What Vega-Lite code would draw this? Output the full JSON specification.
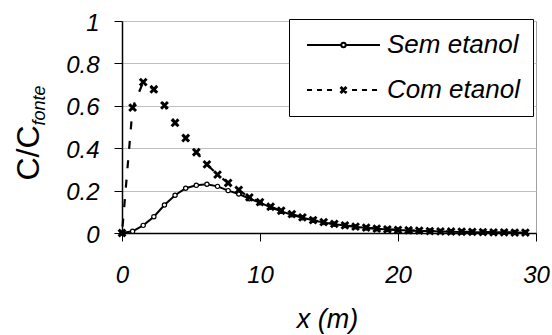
{
  "$schema": "https://vega.github.io/schema/vega-lite/v6.json",
  "width": 414,
  "height": 212,
  "autosize": {"type": "none"},
  "padding": {"left": 122, "top": 21, "right": 16, "bottom": 102},
  "background": "white",
  "config": {
    "font": "Liberation Sans",
    "view": {"stroke": "#a0a0a0", "strokeWidth": 1},
    "axis": {"labelFont": "Liberation Sans", "titleFont": "Liberation Sans", "labelColor": "black", "titleColor": "black", "tickColor": "black", "domainColor": "black"}
  },
  "data": {"values": [
    {"x": 0, "c": 0, "serie": "Sem etanol"},
    {"x": 0.769, "c": 0.008, "serie": "Sem etanol"},
    {"x": 1.538, "c": 0.036, "serie": "Sem etanol"},
    {"x": 2.308, "c": 0.077, "serie": "Sem etanol"},
    {"x": 3.077, "c": 0.132, "serie": "Sem etanol"},
    {"x": 3.846, "c": 0.178, "serie": "Sem etanol"},
    {"x": 4.615, "c": 0.211, "serie": "Sem etanol"},
    {"x": 5.385, "c": 0.225, "serie": "Sem etanol"},
    {"x": 6.154, "c": 0.23, "serie": "Sem etanol"},
    {"x": 6.923, "c": 0.22, "serie": "Sem etanol"},
    {"x": 7.692, "c": 0.2, "serie": "Sem etanol"},
    {"x": 8.462, "c": 0.184, "serie": "Sem etanol"},
    {"x": 9.231, "c": 0.162, "serie": "Sem etanol"},
    {"x": 10.0, "c": 0.143, "serie": "Sem etanol"},
    {"x": 10.769, "c": 0.121, "serie": "Sem etanol"},
    {"x": 11.538, "c": 0.102, "serie": "Sem etanol"},
    {"x": 12.308, "c": 0.086, "serie": "Sem etanol"},
    {"x": 13.077, "c": 0.072, "serie": "Sem etanol"},
    {"x": 13.846, "c": 0.06, "serie": "Sem etanol"},
    {"x": 14.615, "c": 0.049, "serie": "Sem etanol"},
    {"x": 15.385, "c": 0.041, "serie": "Sem etanol"},
    {"x": 16.154, "c": 0.035, "serie": "Sem etanol"},
    {"x": 16.923, "c": 0.029, "serie": "Sem etanol"},
    {"x": 17.692, "c": 0.024, "serie": "Sem etanol"},
    {"x": 18.462, "c": 0.02, "serie": "Sem etanol"},
    {"x": 19.231, "c": 0.017, "serie": "Sem etanol"},
    {"x": 20.0, "c": 0.014, "serie": "Sem etanol"},
    {"x": 20.769, "c": 0.012, "serie": "Sem etanol"},
    {"x": 21.538, "c": 0.01, "serie": "Sem etanol"},
    {"x": 22.308, "c": 0.009, "serie": "Sem etanol"},
    {"x": 23.077, "c": 0.007, "serie": "Sem etanol"},
    {"x": 23.846, "c": 0.006, "serie": "Sem etanol"},
    {"x": 24.615, "c": 0.005, "serie": "Sem etanol"},
    {"x": 25.385, "c": 0.004, "serie": "Sem etanol"},
    {"x": 26.154, "c": 0.004, "serie": "Sem etanol"},
    {"x": 26.923, "c": 0.003, "serie": "Sem etanol"},
    {"x": 27.692, "c": 0.003, "serie": "Sem etanol"},
    {"x": 28.462, "c": 0.002, "serie": "Sem etanol"},
    {"x": 29.231, "c": 0.002, "serie": "Sem etanol"},
    {"x": 0, "c": 0, "serie": "Com etanol"},
    {"x": 0.769, "c": 0.591, "serie": "Com etanol"},
    {"x": 1.538, "c": 0.712, "serie": "Com etanol"},
    {"x": 2.308, "c": 0.678, "serie": "Com etanol"},
    {"x": 3.077, "c": 0.602, "serie": "Com etanol"},
    {"x": 3.846, "c": 0.52, "serie": "Com etanol"},
    {"x": 4.615, "c": 0.448, "serie": "Com etanol"},
    {"x": 5.385, "c": 0.381, "serie": "Com etanol"},
    {"x": 6.154, "c": 0.324, "serie": "Com etanol"},
    {"x": 6.923, "c": 0.275, "serie": "Com etanol"},
    {"x": 7.692, "c": 0.236, "serie": "Com etanol"},
    {"x": 8.462, "c": 0.203, "serie": "Com etanol"},
    {"x": 9.231, "c": 0.168, "serie": "Com etanol"},
    {"x": 10.0, "c": 0.146, "serie": "Com etanol"},
    {"x": 10.769, "c": 0.124, "serie": "Com etanol"},
    {"x": 11.538, "c": 0.105, "serie": "Com etanol"},
    {"x": 12.308, "c": 0.089, "serie": "Com etanol"},
    {"x": 13.077, "c": 0.074, "serie": "Com etanol"},
    {"x": 13.846, "c": 0.061, "serie": "Com etanol"},
    {"x": 14.615, "c": 0.051, "serie": "Com etanol"},
    {"x": 15.385, "c": 0.043, "serie": "Com etanol"},
    {"x": 16.154, "c": 0.036, "serie": "Com etanol"},
    {"x": 16.923, "c": 0.03, "serie": "Com etanol"},
    {"x": 17.692, "c": 0.025, "serie": "Com etanol"},
    {"x": 18.462, "c": 0.021, "serie": "Com etanol"},
    {"x": 19.231, "c": 0.017, "serie": "Com etanol"},
    {"x": 20.0, "c": 0.015, "serie": "Com etanol"},
    {"x": 20.769, "c": 0.013, "serie": "Com etanol"},
    {"x": 21.538, "c": 0.011, "serie": "Com etanol"},
    {"x": 22.308, "c": 0.009, "serie": "Com etanol"},
    {"x": 23.077, "c": 0.008, "serie": "Com etanol"},
    {"x": 23.846, "c": 0.007, "serie": "Com etanol"},
    {"x": 24.615, "c": 0.006, "serie": "Com etanol"},
    {"x": 25.385, "c": 0.005, "serie": "Com etanol"},
    {"x": 26.154, "c": 0.004, "serie": "Com etanol"},
    {"x": 26.923, "c": 0.003, "serie": "Com etanol"},
    {"x": 27.692, "c": 0.003, "serie": "Com etanol"},
    {"x": 28.462, "c": 0.002, "serie": "Com etanol"},
    {"x": 29.231, "c": 0.002, "serie": "Com etanol"}
  ]},
  "encoding": {
    "x": {
      "field": "x", "type": "quantitative",
      "scale": {"domain": [0, 30], "nice": false},
      "axis": {
        "values": [0, 10, 20, 30], "grid": false, "tickSize": 8, "tickWidth": 1, "domainWidth": 1.5,
        "labelFontSize": 24, "labelFontStyle": "italic", "labelPadding": 22, "labelFlush": false, "labelOverlap": false,
        "title": "x (m)", "titleFontSize": 27, "titleFontStyle": "italic", "titleFontWeight": "normal",
        "titleX": 205, "titleY": 94, "titleBaseline": "alphabetic", "titleAlign": "center"
      }
    }
  },
  "layer": [
    {
      "transform": [{"filter": "datum.serie == 'Sem etanol'"}],
      "mark": {"type": "line", "color": "black", "strokeWidth": 2},
      "encoding": {
        "y": {
          "field": "c", "type": "quantitative",
          "scale": {"domain": [0, 1], "nice": false},
          "axis": {
            "values": [0, 0.2, 0.4, 0.6, 0.8, 1], "format": ".1~f", "grid": true, "gridColor": "#c0c0c0", "gridWidth": 1,
            "tickSize": 8, "tickWidth": 1, "domainWidth": 1.5,
            "labelFontSize": 24, "labelFontStyle": "italic", "labelPadding": 15, "labelOffset": 2, "labelFlush": false, "labelOverlap": false,
            "title": "C/C", "titleFontSize": 32, "titleFontWeight": "normal", "titleAngle": -90, "titleAlign": "left", "titleBaseline": "alphabetic",
            "titleX": -84, "titleY": 159
          }
        }
      }
    },
    {
      "transform": [{"filter": "datum.serie == 'Com etanol'"}],
      "mark": {"type": "line", "color": "black", "strokeWidth": 2.2, "strokeDash": [8, 11.5], "strokeDashOffset": 13},
      "encoding": {"y": {"field": "c", "type": "quantitative", "axis": null}}
    },
    {
      "transform": [{"filter": "datum.serie == 'Sem etanol'"}],
      "mark": {"type": "point", "shape": "circle", "filled": true, "fill": "white", "stroke": "black", "strokeWidth": 1.2, "size": 18, "opacity": 1},
      "encoding": {"y": {"field": "c", "type": "quantitative", "axis": null}}
    },
    {
      "transform": [{"filter": "datum.serie == 'Com etanol'"}],
      "mark": {"type": "point", "shape": "M-1,-1L1,1M-1,1L1,-1", "filled": false, "stroke": "black", "strokeWidth": 2.9, "size": 46, "opacity": 1},
      "encoding": {"y": {"field": "c", "type": "quantitative", "axis": null}}
    },
    {
      "transform": [{"filter": "datum.x < 0"}],
      "mark": {"type": "point", "filled": false, "color": "black", "strokeWidth": 2, "opacity": 1},
      "encoding": {
        "y": {
          "field": "c", "type": "quantitative",
          "axis": {
            "orient": "left", "labels": false, "ticks": false, "domain": false, "grid": false,
            "title": "fonte", "titleFontSize": 18, "titleFontStyle": "italic", "titleFontWeight": "normal",
            "titleAngle": -90, "titleAlign": "left", "titleBaseline": "alphabetic", "titleX": -78, "titleY": 104
          }
        },
        "shape": {
          "field": "serie", "type": "nominal",
          "scale": {
            "domain": ["Sem etanol", "Com etanol"],
            "range": [
              "M-3.65,0L-0.22,0M0.22,0L3.65,0M0.22,0A0.22,0.22,0,1,1,-0.22,0A0.22,0.22,0,1,1,0.22,0Z",
              "M-3.65,0L-3.15,0M-2.65,0L-2.15,0M-1.65,0L-1.15,0M0.85,0L1.35,0M1.85,0L2.35,0M2.85,0L3.35,0M-0.3,-0.3L0.3,0.3M-0.3,0.3L0.3,-0.3M-0.26,-0.33L0.33,0.26M-0.33,-0.26L0.26,0.33M-0.33,0.26L0.26,-0.33M-0.26,0.33L0.33,-0.26"
            ]
          },
          "legend": {
            "title": null, "orient": "none", "legendX": 167, "legendY": -2,
            "fillColor": "white", "strokeColor": "black", "padding": 13,
            "symbolSize": 400, "symbolStrokeWidth": 2, "symbolStrokeColor": "black", "symbolOpacity": 1,
            "symbolOffset": 28.5, "labelOffset": 30.5, "rowPadding": 19,
            "labelFont": "Liberation Sans", "labelFontSize": 26, "labelFontStyle": "italic", "labelColor": "black", "labelLimit": 300
          }
        }
      }
    }
  ],
  "resolve": {"axis": {"y": "independent"}}
}
